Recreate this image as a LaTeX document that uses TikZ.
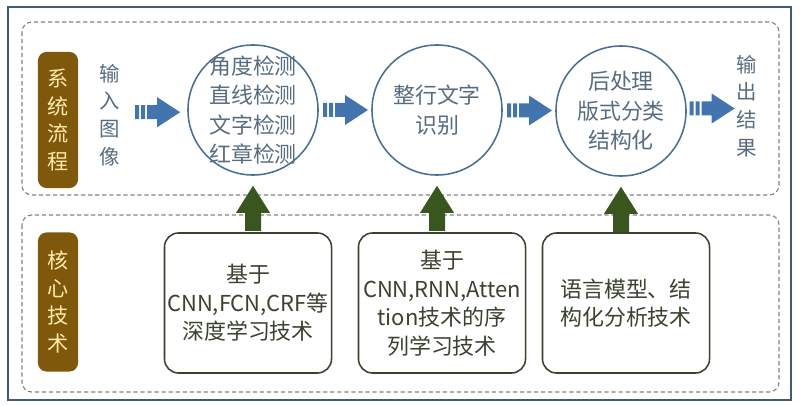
\documentclass[tikz,border=0pt]{standalone}
\usepackage{fontspec}
\setmainfont{Noto Sans CJK SC}
\usetikzlibrary{calc}

\definecolor{framebl}{RGB}{62,92,122}
\definecolor{dashgr}{RGB}{128,130,138}
\definecolor{labbrown}{RGB}{128,88,12}
\definecolor{labtext}{RGB}{255,236,172}
\definecolor{flowbl}{RGB}{72,112,150}
\definecolor{flowtext}{RGB}{88,108,128}
\definecolor{arrbl}{RGB}{66,116,176}
\definecolor{arrgr}{RGB}{56,86,30}
\definecolor{techgr}{RGB}{58,66,48}

\tikzset{panel/.style = {draw=dashgr, densely dashed, line width=0.8pt, rounded corners=7pt}}
\tikzset{tag/.style = {fill=labbrown, rounded corners=6pt, minimum width=1cm, inner sep=0,
    text=labtext, align=center, font=\fontsize{15pt}{19.5pt}\selectfont}}
\tikzset{side/.style = {inner sep=0, text=flowtext, align=center, font=\fontsize{14.5pt}{19.8pt}\selectfont}}
\tikzset{stage/.style = {draw=flowbl, circle, line width=1.1pt, minimum size=3.25cm, inner sep=0}}
\tikzset{stagetext/.style = {inner sep=0, text=flowtext, align=center, font=\fontsize{15.6pt}{21pt}\selectfont}}
\tikzset{tech/.style = {draw=techgr, rounded corners=10pt, line width=1.1pt, minimum width=4.175cm,
    minimum height=3.5cm, inner sep=0, text=techgr, align=center, font=\fontsize{15.6pt}{20.3pt}\selectfont}}
\tikzset{bluearrow/.pic = {
    \fill[arrbl] (-22,-7) rectangle (-18,7) (-16,-7) rectangle (-12,7);
    \fill[arrbl] (-10,-7) -- (0,-7) -- (0,-15) -- (23,0) -- (0,15) -- (0,7) -- (-10,7) -- cycle;
  }}
\tikzset{greenarrow/.pic = {
    \fill[arrgr] (0,10) -- (17,37) -- (8,37) -- (8,55) -- (-8,55) -- (-8,37) -- (-17,37) -- cycle;
  }}

\begin{document}
\begin{tikzpicture}[x=0.025cm, y=-0.025cm]
  \useasboundingbox (0,0) rectangle (800,406);
  \draw[framebl, line width=1.4pt] (8,7) rectangle (791,400);
  \draw[panel] (22,22) rectangle (779,195);
  \draw[panel] (22,215) rectangle (779,392);

  \node[tag, minimum height=3.4cm] (flow) at (58,120) {系\\统\\流\\程};
  \node[tag, minimum height=3.475cm] (core) at (58,302) {核\\心\\技\\术};

  \node[side] (in) at (110,115) {输\\入\\图\\像};
  \node[side] (out) at (747,106) {输\\出\\结\\果};

  \node[stage] (c1) at (253,110) {};
  \node[stage] (c2) at (437,110) {};
  \node[stage] (c3) at (621,111) {};
  \node[stagetext] (t1) at (c1) {角度检测\\直线检测\\文字检测\\红章检测};
  \node[stagetext] (t2) at (c2) {整行文字\\识别};
  \node[stagetext] (t3) at (c3) {后处理\\版式分类\\结构化};

  \node[tech] (b1) at (248,303) {基于\\CNN,FCN,CRF等\\深度学习技术};
  \node[tech] (b2) at (442,303) {基于\\CNN,RNN,Atten\\tion技术的序\\列学习技术};
  \node[tech] (b3) at (626,303) {语言模型、结\\构化分析技术};

  \pic at ($(in.east)!0.55!(c1.west)$) {bluearrow};
  \pic at ($(c1.east)!0.5!(c2.west)$) {bluearrow};
  \pic at ($(c2.east)!0.5!(c3.west)$) {bluearrow};
  \pic at ($(c3.east)!0.5!(out.west)$) {bluearrow};

  \foreach \n in {1,2,3}
    \pic at (c\n.south) {greenarrow};
\end{tikzpicture}
\end{document}
